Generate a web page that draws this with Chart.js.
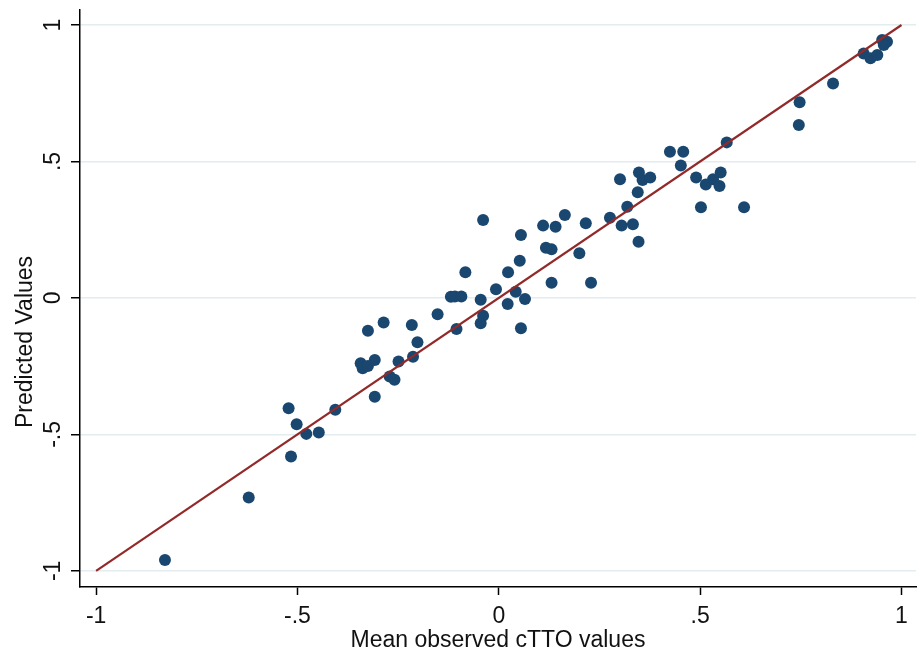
<!DOCTYPE html>
<html>
<head>
<meta charset="utf-8">
<script src="https://cdn.jsdelivr.net/npm/chart.js@4.4.0/dist/chart.umd.min.js"></script>
<style>
  html, body { margin: 0; padding: 0; background: #fff; }
  #wrap { width: 917px; height: 648px; }
</style>
</head>
<body>
<div id="wrap"><canvas id="fitPlot"></canvas></div>
<script>
// observed (x) vs predicted (y)
const obsX = [
  -0.829, -0.621, -0.522, -0.502, -0.478, -0.447, -0.516, -0.406, -0.308, -0.343,
  -0.338, -0.325, -0.308, -0.325, -0.286, -0.271, -0.259, -0.249, -0.213, -0.202,
  -0.216, -0.152, -0.119, -0.109, -0.093, -0.105, -0.083, -0.039, -0.045, -0.039,
  -0.045, -0.007, 0.022, 0.042, 0.065, 0.055, 0.023, 0.052, 0.055, 0.110,
  0.141, 0.164, 0.117, 0.131, 0.131, 0.200, 0.216, 0.229, 0.276, 0.305,
  0.333, 0.319, 0.301, 0.347, 0.345, 0.348, 0.357, 0.376, 0.425, 0.458,
  0.452, 0.490, 0.514, 0.532, 0.548, 0.551, 0.502, 0.609, 0.566, 0.747,
  0.745, 0.830, 0.906, 0.923, 0.940, 0.952, 0.964, 0.956
];
const predY = [
  -0.960, -0.731, -0.404, -0.463, -0.498, -0.493, -0.581, -0.410, -0.362, -0.239,
  -0.258, -0.249, -0.227, -0.120, -0.090, -0.288, -0.300, -0.233, -0.215, -0.162,
  -0.099, -0.060, 0.004, 0.005, 0.005, -0.114, 0.094, 0.286, -0.007, -0.065,
  -0.093, 0.032, -0.022, 0.023, -0.004, -0.111, 0.094, 0.136, 0.231, 0.265,
  0.261, 0.304, 0.184, 0.178, 0.056, 0.164, 0.274, 0.056, 0.294, 0.265,
  0.270, 0.334, 0.435, 0.206, 0.387, 0.460, 0.432, 0.441, 0.536, 0.536,
  0.485, 0.441, 0.416, 0.435, 0.410, 0.460, 0.332, 0.332, 0.570, 0.717,
  0.634, 0.786, 0.896, 0.878, 0.890, 0.945, 0.939, 0.927
];
// 45 degree reference line
const fitX = [-1, 1];
const fitY = [-1, 1];

const tickVals = [-1, -0.5, 0, 0.5, 1];
const tickText = ["-1", "-.5", "0", ".5", "1"];
const xTitle = "Mean observed cTTO values";
const yTitle = "Predicted Values";

const navy = "#1a476f";
const maroon = "#922a2a";
const font = '23px "Liberation Sans", Arial, sans-serif';

// Stata style labels: y ticks and title are turned to read upwards
const axisText = {
  id: "axisText",
  afterDraw(chart) {
    const { ctx } = chart;
    const x = chart.scales.x;
    const y = chart.scales.y;
    ctx.save();
    ctx.fillStyle = "#111";
    ctx.font = font;
    ctx.textAlign = "center";
    ctx.textBaseline = "alphabetic";
    tickVals.forEach((v, i) => {
      ctx.fillText(tickText[i], x.getPixelForValue(v), x.top + 36);
      ctx.save();
      ctx.translate(y.right - 20, y.getPixelForValue(v));
      ctx.rotate(-Math.PI / 2);
      ctx.fillText(tickText[i], 0, 0);
      ctx.restore();
    });
    ctx.fillText(xTitle, (x.left + x.right) / 2, x.top + 60);
    ctx.translate(32, 342);
    ctx.rotate(-Math.PI / 2);
    ctx.fillText(yTitle, 0, 0);
    ctx.restore();
  }
};

const fixTicks = (s) => { s.ticks = tickVals.map((v) => ({ value: v })); };

new Chart(document.getElementById("fitPlot"), {
  type: "scatter",
  data: {
    datasets: [
      {
        type: "line",
        data: fitX.map((v, i) => ({ x: v, y: fitY[i] })),
        borderColor: maroon,
        borderWidth: 2.2,
        pointRadius: 0,
        order: 0,
      },
      {
        data: obsX.map((v, i) => ({ x: v, y: predY[i] })),
        backgroundColor: navy,
        borderColor: navy,
        borderWidth: 0,
        pointRadius: 6,
        order: 1,
      },
    ],
  },
  options: {
    responsive: true,
    maintainAspectRatio: false,
    animation: false,
    layout: { autoPadding: false, padding: { top: 10, right: 1, left: 0, bottom: 0 } },
    plugins: { legend: { display: false }, tooltip: { enabled: false } },
    scales: {
      x: {
        type: "linear",
        min: -1.04,
        max: 1.036,
        afterBuildTicks: fixTicks,
        afterFit: (s) => { s.height = 61; },
        ticks: { display: false },
        grid: { drawOnChartArea: false, tickLength: 8, tickColor: "#000", tickWidth: 1.5 },
        border: { color: "#000", width: 1.5 },
      },
      y: {
        type: "linear",
        min: -1.059,
        max: 1.055,
        afterBuildTicks: fixTicks,
        afterFit: (s) => { s.width = 80; },
        ticks: { display: false },
        grid: { color: "#e3ecef", lineWidth: 1.5, tickLength: 9, tickColor: "#000", tickWidth: 1.5 },
        border: { color: "#000", width: 1.5 },
      },
    },
  },
  plugins: [axisText],
});
</script>
</body>
</html>
